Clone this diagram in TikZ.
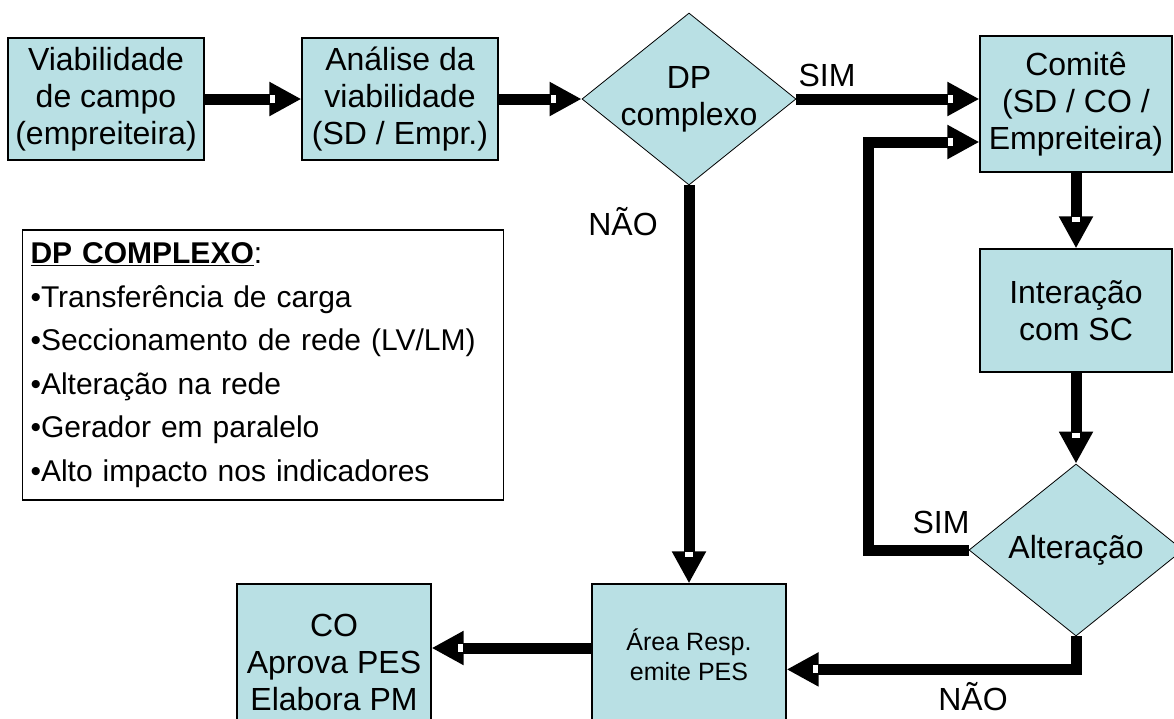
\documentclass[tikz,border=0pt]{standalone}
\usepackage{fontspec}
\setmainfont{Liberation Sans}
\usetikzlibrary{shapes.geometric,arrows.meta,decorations.markings}
\definecolor{boxblue}{RGB}{185,224,228}
\tikzset{
  proc/.style={draw=black, line width=1.2pt, fill=boxblue, align=center, minimum width=194pt, inner sep=0pt, font=\fontsize{32}{37}\selectfont},
  decis/.style={diamond, draw=black, line width=0.8pt, fill=boxblue, minimum width=214pt, minimum height=172pt, inner sep=0pt},
  lbl/.style={align=center, font=\fontsize{32}{37}\selectfont},
  flow/.style={line width=11pt, -{Triangle[length=32pt,width=32pt]},
    postaction={decorate, decoration={markings, mark=at position 1 with {\fill[white] (-31pt,-4pt) rectangle (-26pt,4pt);}}}}
}

\begin{document}
\begin{tikzpicture}[x=1pt, y=-1pt]
    \useasboundingbox (0,0) rectangle (1174,718);
    \clip (0,0) rectangle (1174,718);
    % top row
    \node[proc, minimum width=196pt, minimum height=122pt] (viab) at (106,99) {Viabilidade\\de campo\\(empreiteira)};
    \node[proc, minimum width=196pt, minimum height=122pt] (anal) at (400,99) {Análise da\\viabilidade\\(SD / Empr.)};
    \node[decis] (dp) at (689,99) {};
    \node[lbl] at (dp) {DP\\complexo};
    \node[proc, minimum width=192pt, minimum height=136pt] (comite) at (1076,104) {Comitê\\(SD / CO /\\Empreiteira)};
    % right column
    \node[proc, minimum width=192pt, minimum height=123pt] (inter) at (1076,310.5) {Interação\\com SC};
    \node[decis] (alt) at (1076,550) {};
    \node[lbl] at (alt) {Alteração};
    % bottom row
    \node[proc, minimum height=142pt, font=\fontsize{25}{30}\selectfont] (area) at (689,655) {Área Resp.\\emite PES};
    \node[proc, minimum height=156pt] (co) at (334,662) {CO\\Aprova PES\\Elabora PM};
    % list of complex cases
    \node[draw=black, line width=1.2pt, text width=465pt, inner sep=8pt, minimum height=270pt, align=left,
      font=\fontsize{30}{43.5}\selectfont] (lista) at (263,365) {\underline{\textbf{DP COMPLEXO}}:\\
      •Transferência de carga\\
      •Seccionamento de rede (LV/LM)\\
      •Alteração na rede\\
      •Gerador em paralelo\\
      •Alto impacto nos indicadores};
    % answers
    \node[lbl] (simtop) at (827,75) {SIM};
    \node[lbl] (naoleft) at (623,222) {NÃO};
    \node[lbl] (simlow) at (941,522) {SIM};
    \node[lbl] (naolow) at (973,697) {NÃO};
    % connectors
    \coordinate (simin) at ([yshift=-43pt]dp.east -| comite.west);
    \draw[flow] (viab) -- (anal);
    \draw[flow] (anal.east) -- (dp.west);
    \draw[flow] (dp.east) -- (dp.east -| comite.west);
    \draw[flow] (dp.south) -- (area.north);
    \draw[flow] (comite.south) -- (inter.north);
    \draw[flow] (inter.south) -- (alt.north);
    \draw[flow] (alt.west) -- ++(-100,0) |- (simin);
    \draw[flow] (alt.south) -- ++(0,33) coordinate (altno) -- (altno -| area.east);
    \draw[flow] ([yshift=7pt]area.west) -- ([yshift=7pt]area.west -| co.east);
\end{tikzpicture}
\end{document}
